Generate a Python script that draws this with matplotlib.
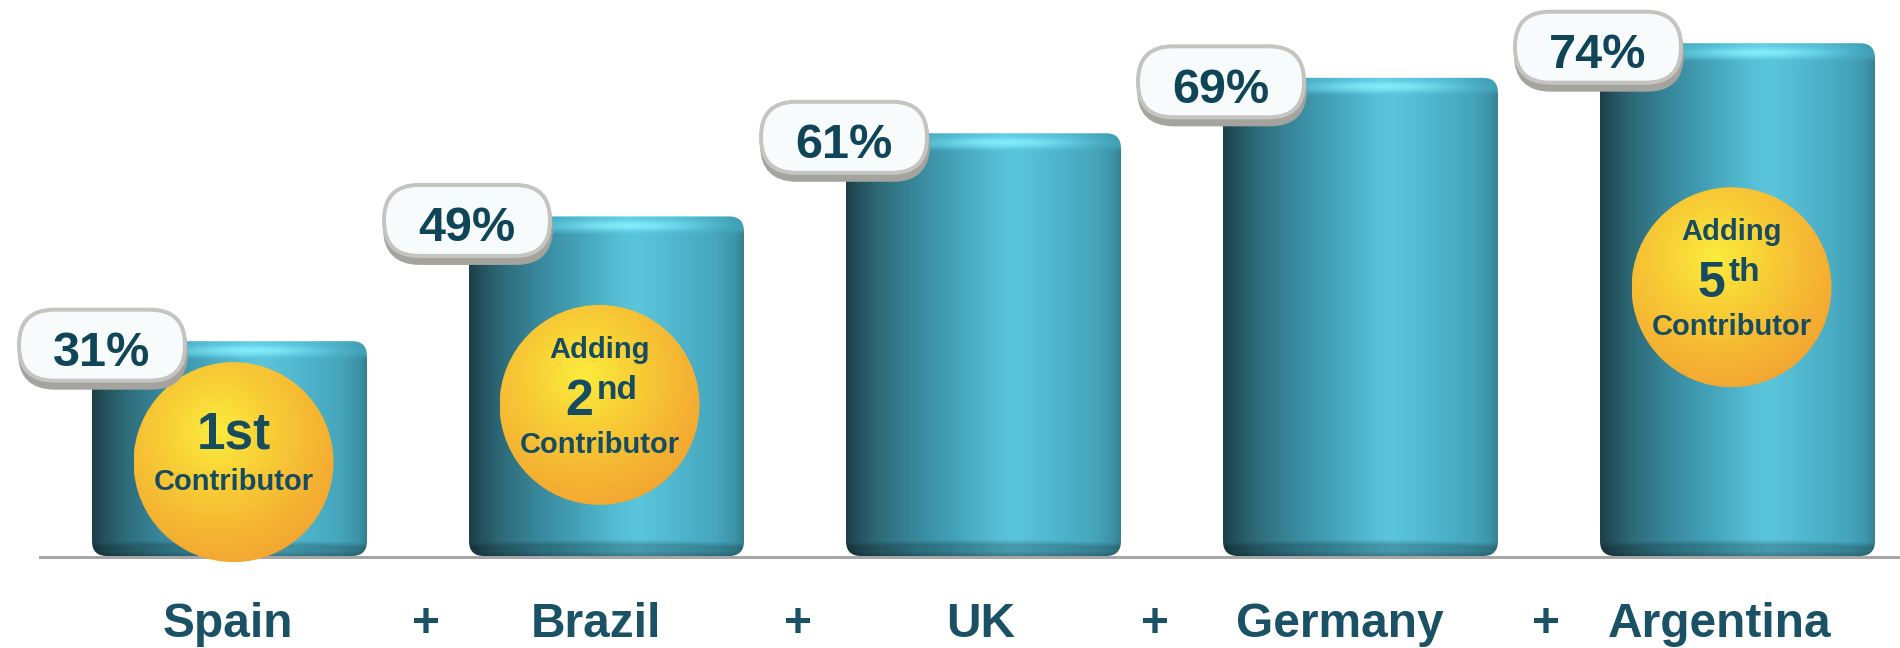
import numpy as np
import matplotlib
matplotlib.use("Agg")
import matplotlib.pyplot as plt
from matplotlib.patches import FancyBboxPatch, Ellipse
from matplotlib.colors import to_rgb

# ---- data -------------------------------------------------------------
countries = ["Spain", "Brazil", "UK", "Germany", "Argentina"]
cumulative_share = [31, 49, 61, 69, 74]
share_labels = ["31%", "49%", "61%", "69%", "74%"]

badge_bars = [0, 1, 4]
badge_numbers = ["1", "2", "5"]
badge_suffixes = ["st", "nd", "th"]

# ---- layout (pixels at 100 dpi) ----------------------------------------
W, H, DPI = 1900, 648, 100
BAR_STEP_PX = 377.0
FIRST_BAR_PX = 229.5
BASE_PX = 556.0          # baseline position measured from the top
PX_PER_UNIT = 6.93       # pixels per percentage point
BAR_W_PX = 275.0
BADGE_R_PX = 100.0
badge_height_frac = [0.437, 0.445, 0.524]
badge_dx_px = [4, -7, -6]
pill_dx_px = [12, 0, 0, 0, 0]
label_dx_px = [-2, -11, -3, -21, -18]
plus_shift = [0.02, 0.008, -0.045, -0.008]

plt.rcParams["font.family"] = ["Liberation Sans", "DejaVu Sans"]

TEXT_DARK = "#0f4557"
LABEL_COL = "#1a5165"

fig = plt.figure(figsize=(W / DPI, H / DPI), dpi=DPI)
ax = fig.add_axes([0, 0, 1, 1])
ax.set_xlim(-FIRST_BAR_PX / BAR_STEP_PX, (W - FIRST_BAR_PX) / BAR_STEP_PX)
ax.set_ylim(-(H - BASE_PX) / PX_PER_UNIT, BASE_PX / PX_PER_UNIT)
ax.axis("off")

sx = 1.0 / BAR_STEP_PX        # data-x per pixel
sy = 1.0 / PX_PER_UNIT        # data-y per pixel
aspect = sy / sx
PT = 72.0 / DPI               # points per pixel


def colour_profile(stops, t):
    pos = np.array([p for p, _ in stops])
    cols = np.array([to_rgb(c) for _, c in stops])
    return np.stack([np.interp(t, pos, cols[:, k]) for k in range(3)], axis=-1)


BODY = [(0.00, "#1c3f48"), (0.04, "#23505b"), (0.12, "#2e6b79"),
        (0.25, "#38889c"), (0.40, "#44a3b9"), (0.55, "#56bfd5"),
        (0.62, "#5bc5db"), (0.75, "#50b7ce"), (0.90, "#45a6bd"),
        (0.97, "#3d94a8"), (1.00, "#35808f")]
RIM = [(0.00, "#3b9cb2"), (0.30, "#48aec5"), (0.58, "#62cfe6"),
       (0.80, "#52bcd3"), (1.00, "#3e9cb1")]


def bar_image(h_px, w_px):
    t = np.linspace(0, 1, w_px)
    body = colour_profile(BODY, t)
    rim = colour_profile(RIM, t)
    y = np.arange(h_px, dtype=float)[:, None]
    img = np.repeat(body[None, :, :], h_px, axis=0)
    # rounded rim along the top edge
    rim_w = np.clip((18 - y) / 5.0, 0, 1)
    img = img * (1 - rim_w[..., None]) + rim[None, :, :] * rim_w[..., None]
    # specular streak on the rim
    g = np.exp(-0.5 * ((t[None, :] - 0.58) / 0.16) ** 2
               - 0.5 * ((y - 9.0) / 3.2) ** 2)
    hl = np.array(to_rgb("#8af0fd"))
    img = img + (hl - img) * (0.85 * g)[..., None]
    # darker curved base
    yb = (h_px - 1) - y
    curve = 3.0 * (1 - (2 * t[None, :] - 1) ** 2)
    d = np.clip((13 + curve - yb) / 5.0, 0, 1) * 0.22
    d = d + np.clip((4 - yb) / 4.0, 0, 1) * 0.12
    img = img * (1 - d[..., None])
    return np.clip(img, 0, 1)


def badge_image(n=240):
    u = np.linspace(-1, 1, n)
    U, V = np.meshgrid(u, -u)
    dist = np.sqrt((U + 0.17) ** 2 + (V - 0.30) ** 2)
    stops = [(0.0, "#fcec3d"), (0.5, "#f8d036"), (1.0, "#f5b633"),
             (1.4, "#f2a431")]
    img = colour_profile(stops, dist)
    return np.clip(img, 0, 1)


# ---- baseline -----------------------------------------------------------
ax.axhline(-1.2 * sy, xmin=40 / W, xmax=1.0, color="#a6a6a6",
           lw=3 * PT, zorder=1)

# ---- cylinders ----------------------------------------------------------
bw = BAR_W_PX * sx
for i, v in enumerate(cumulative_share):
    x0 = i - bw / 2
    patch = FancyBboxPatch((x0, 0), bw, v,
                           boxstyle=f"round,pad=0,rounding_size={15 * sx}",
                           mutation_aspect=aspect, fc="none", ec="none",
                           zorder=2)
    ax.add_patch(patch)
    h_px = int(round(v * PX_PER_UNIT))
    im = ax.imshow(bar_image(h_px, int(BAR_W_PX)), extent=(x0, x0 + bw, 0, v),
                   origin="upper", aspect="auto", interpolation="bilinear",
                   zorder=2)
    im.set_clip_path(patch)

# ---- contributor badges -------------------------------------------------
bimg = badge_image()
for k, bi in enumerate(badge_bars):
    cx = bi + badge_dx_px[k] * sx
    cy = cumulative_share[bi] * badge_height_frac[k]
    rx, ry = BADGE_R_PX * sx, BADGE_R_PX * sy
    ell = Ellipse((cx, cy), 2 * rx, 2 * ry, fc="none", ec="none", zorder=3)
    ax.add_patch(ell)
    im = ax.imshow(bimg, extent=(cx - rx, cx + rx, cy - ry, cy + ry),
                   origin="upper", aspect="auto", interpolation="bilinear",
                   zorder=3)
    im.set_clip_path(ell)

    def put(s, dx, dy, size, ha="center"):
        ax.annotate(s, xy=(cx, cy), xytext=(dx * PT, -dy * PT),
                    textcoords="offset points", ha=ha, va="baseline",
                    fontsize=size, fontweight="bold", color="#174b5f",
                    zorder=4)

    if k == 0:
        put(badge_numbers[k] + badge_suffixes[k], 0, -14, 37)
        put("Contributor", 0, 28, 21)
    else:
        put("Adding", 0, -47, 21)
        put(badge_numbers[k], -6, 10, 36, ha="right")
        put(badge_suffixes[k], -3, -6, 24, ha="left")
        put("Contributor", 0, 48, 21)

# ---- value pills --------------------------------------------------------
PILL_W, PILL_H = 166.0, 71.0
for i, (v, lab) in enumerate(zip(cumulative_share, share_labels)):
    cx = i - bw / 2 + (pill_dx_px[i] - 2) * sx
    cy = v - 4 * sy
    w, h = PILL_W * sx, PILL_H * sy
    r = (PILL_H / 2 - 0.5) * sx
    shadow = FancyBboxPatch((cx - w / 2 + 1 * sx, cy - h / 2 - 7 * sy), w, h,
                            boxstyle=f"round,pad=0,rounding_size={r}",
                            mutation_aspect=aspect, fc="#a4a39d",
                            ec="#a4a39d", lw=4 * PT, zorder=5)
    ax.add_patch(shadow)
    pill = FancyBboxPatch((cx - w / 2, cy - h / 2), w, h,
                          boxstyle=f"round,pad=0,rounding_size={r}",
                          mutation_aspect=aspect, fc="#f7fbfc",
                          ec="#c4c4c0", lw=4 * PT, zorder=6)
    ax.add_patch(pill)
    ax.text(cx, cy - 21 * sy, lab, ha="center", va="baseline", fontsize=35,
            fontweight="bold", color=TEXT_DARK, zorder=7)

# ---- category labels and plus signs -------------------------------------
label_y = -(637 - BASE_PX) * sy
for i, name in enumerate(countries):
    ax.text(i + label_dx_px[i] * sx, label_y, name, ha="center",
            va="baseline", fontsize=34.5, fontweight="bold", color=LABEL_COL)
for i in range(len(countries) - 1):
    ax.text(i + 0.5 + plus_shift[i], label_y, "+", ha="center",
            va="baseline", fontsize=34.5, fontweight="bold", color=LABEL_COL)

fig.savefig("out.png", dpi=DPI, facecolor="white")
